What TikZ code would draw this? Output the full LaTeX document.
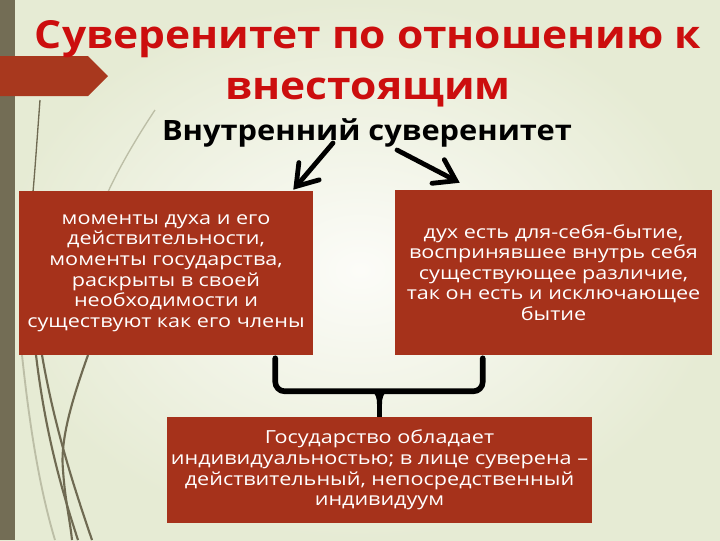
\documentclass[tikz,border=0pt]{standalone}
\usepackage{fontspec}
\setmainfont{Open Sans}
\newfontfamily\titlefont[FakeStretch=1.1]{Open Sans}
\newfontfamily\boxfont[FakeStretch=1.2]{Open Sans}
\usetikzlibrary{arrows.meta,calc}
\definecolor{boxred}{RGB}{166,50,27}
\definecolor{tagred}{RGB}{168,56,30}
\definecolor{titlered}{RGB}{204,14,14}
\definecolor{barcol}{RGB}{115,109,85}
\definecolor{grass}{RGB}{111,106,82}
\definecolor{bgin}{RGB}{252,252,248}
\definecolor{bgout}{RGB}{230,235,212}
\tikzset{
  redbox/.style={rectangle, fill=boxred, text=white, inner sep=0pt, align=center,
    font=\boxfont\fontsize{13.5}{15.4}\selectfont},
  bigarrow/.style={line width=3.6pt, line cap=round, -{Straight Barb[length=15pt,width=20pt,line cap=round]}},
  bracketline/.style={line width=4.2pt, line cap=round, rounded corners=7pt},
  grassline/.style={draw=grass, line width=1.6pt},
  faintgrass/.style={draw=grass!35!bgout, line width=1.4pt}
}
\begin{document}
\begin{tikzpicture}[x=0.75pt,y=-0.75pt]
\useasboundingbox (0,0) rectangle (720,540);
% background
\shade[inner color=bgin, outer color=bgout] (0,0) rectangle (720,540);
\fill[barcol] (0,0) rectangle (15,540);
% grass
\draw[grassline, line width=1pt] (40,100) .. controls (37,140) and (35,170) .. (33,192);
\draw[faintgrass, line width=1pt] (155,110) .. controls (135,140) and (118,170) .. (108,192);
\draw[faintgrass] (22,355) .. controls (30,430) and (40,490) .. (55,540);
\draw[grassline] (36,355) .. controls (45,430) and (60,485) .. (78,540);
\draw[grassline] (42,355) .. controls (55,430) and (75,490) .. (92,540);
\draw[grassline] (88,355) .. controls (72,400) and (60,440) .. (63,470) .. controls (65,500) and (70,520) .. (72,540);
% tag arrow
\fill[tagred] (0,56) -- (88,56) -- (108,76) -- (88,96) -- (0,96) -- cycle;
% title
\node[text=titlered, align=center, font=\titlefont\bfseries\fontsize{29}{38.25}\selectfont] (title) at (368,64)
  {Суверенитет по отношению к\\внестоящим};
\node[anchor=base, font=\titlefont\bfseries\fontsize{21}{25}\selectfont] (sub) at (367,140) {Внутренний суверенитет};
% boxes
\node[redbox, minimum width=294*0.75pt, minimum height=164*0.75pt] (left) at (166,273)
  {моменты духа и его\\действительности,\\моменты государства,\\раскрыты в своей\\необходимости и\\существуют как его члены};
\node[redbox, minimum width=317*0.75pt, minimum height=165*0.75pt] (right) at (553.5,272.5)
  {дух есть для-себя-бытие,\\воспринявшее внутрь себя\\существующее различие,\\так он есть и исключающее\\бытие};
\node[redbox, minimum width=425*0.75pt, minimum height=106*0.75pt] (bottom) at (379.5,470)
  {Государство обладает\\индивидуальностью; в лице суверена –\\действительный, непосредственный\\индивидуум};
% arrows
\coordinate (s1) at (333,143);
\coordinate (s2) at (397,150);
\draw[bigarrow] (s1) -- ($(left.north east)+(-20,-1)$);
\draw[bigarrow] (s2) -- ($(right.north west)+(65,-7)$);
% bracket
\coordinate (bl) at ($(left.south east)+(-38,3)$);
\coordinate (br) at ($(right.south west)+(88,3)$);
\draw[bracketline] (bl) -- ($(bl)+(0,33)$) -- ($(br)+(0,33)$) -- (br);
\fill (371,390) .. controls (376,394) and (377,398) .. (377,404) -- (382,404) .. controls (382,398) and (383,394) .. (388,390) -- cycle;
\draw[line width=4.2pt] ($(bottom.north)+(0,-16)$) -- (bottom.north);
\end{tikzpicture}
\end{document}
